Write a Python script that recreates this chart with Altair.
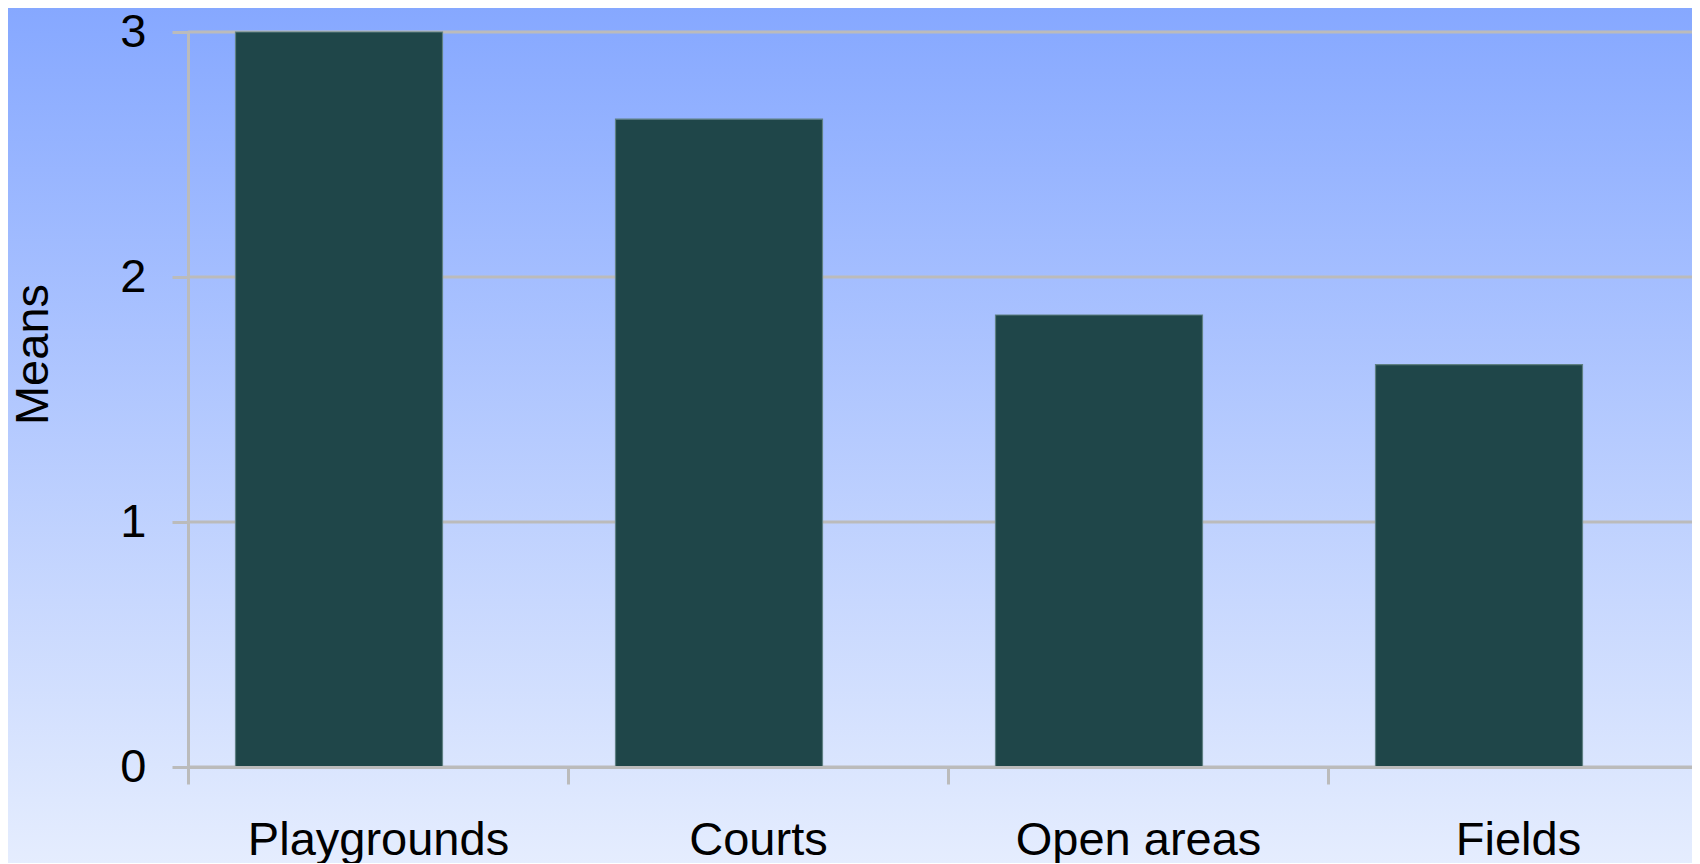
import altair as alt
import pandas as pd

categories = ["Playgrounds", "Courts", "Open areas", "Fields"]
means = [3.0, 2.644, 1.845, 1.642]
y_ticks = [0, 1, 2, 3]

W, H = 1504, 735
FONT = "Liberation Sans"
GRID = "#BBBBBB"

df = pd.DataFrame({"category": categories, "mean": means})
grid_df = pd.DataFrame({"v": y_ticks})

x_enc = alt.X(
    "category:N",
    sort=categories,
    scale=alt.Scale(range=[0, 1520], paddingInner=0, paddingOuter=0),
    axis=alt.Axis(
        title=None, labelAngle=0, labelFont=FONT, labelFontSize=47,
        labelColor="black", labelBaseline="alphabetic", labelPadding=70,
        labelLimit=0, labelOverlap=False,
        tickBand="extent", tickSize=17, tickColor=GRID, tickWidth=3,
        domainColor=GRID, domainWidth=3, zindex=1,
    ),
)
y_enc = alt.Y(
    "mean:Q",
    scale=alt.Scale(domain=[0, 3], nice=False),
    axis=alt.Axis(
        title="Means", values=y_ticks, format="d", grid=False, labelFont=FONT,
        labelFontSize=47, labelColor="black", labelPadding=26,
        tickSize=16, tickColor=GRID, tickWidth=3, domainColor=GRID,
        domainWidth=3, titleFont=FONT, titleFontSize=47,
        titleFontWeight="normal", titleColor="black", titleX=-155,
        titleY=322, titleBaseline="middle", zindex=1,
    ),
)

background = alt.Chart(alt.Data(values=[{}])).mark_rect(
    fill=alt.Gradient(
        gradient="linear", x1=0, x2=0, y1=0, y2=1,
        stops=[alt.GradientStop(color="#86A8FF", offset=0),
               alt.GradientStop(color="#E5EDFE", offset=1)],
    ),
    clip=False,
).encode(x=alt.value(-180), x2=alt.value(W), y=alt.value(-24), y2=alt.value(H + 96))

grid = alt.Chart(grid_df).mark_rule(color=GRID, strokeWidth=3).encode(
    y=alt.Y("v:Q", scale=alt.Scale(domain=[0, 3], nice=False)),
    x=alt.value(0), x2=alt.value(W),
)

bars = alt.Chart(df).mark_bar(
    size=207, xOffset=-39, color="#1F4649", stroke="#5F8083", strokeWidth=1.2
).encode(x=x_enc, y=y_enc)

chart = alt.layer(background, grid, bars).properties(
    width=W, height=H,
    autosize=alt.AutoSizeParams(type="none"),
    padding={"left": 180, "top": 24, "right": 0, "bottom": 96},
).configure_view(stroke=None)

chart.save("out.html", embed_options={"renderer": "svg", "actions": False})
